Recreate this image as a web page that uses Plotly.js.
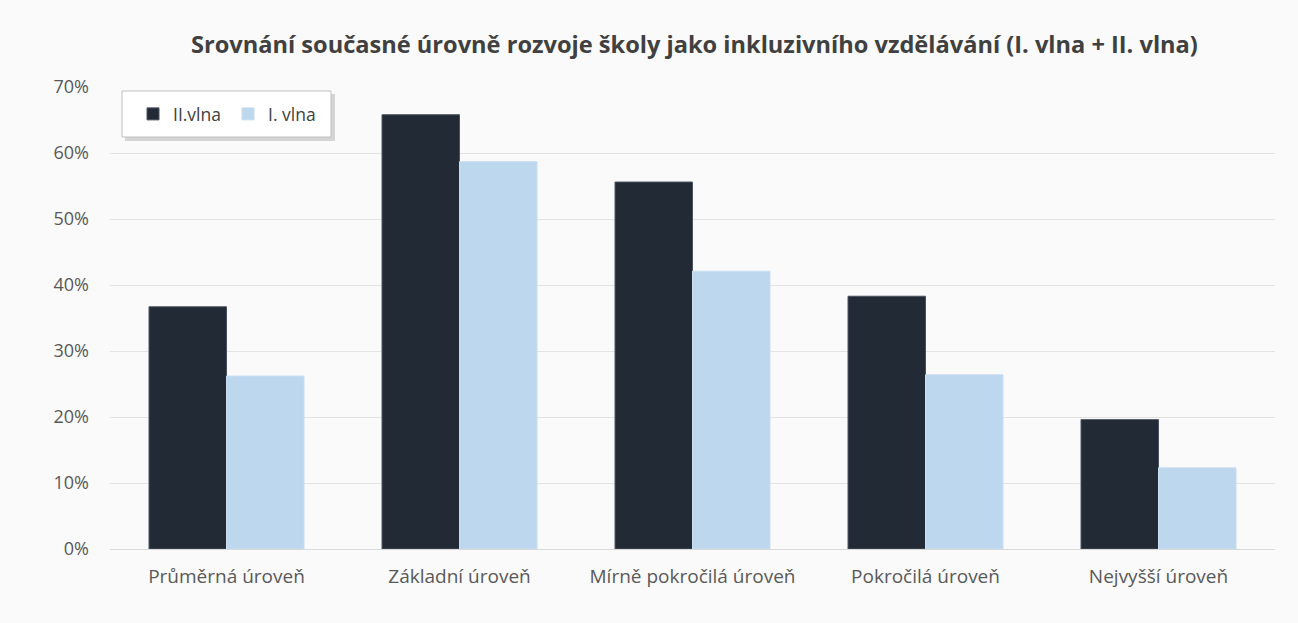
<!DOCTYPE html>
<html>
<head>
<meta charset="utf-8">
<script src="https://cdn.plot.ly/plotly-3.0.1.min.js"></script>
<style>
html,body{margin:0;padding:0;background:#fafafa;}
#chart{width:1298px;height:623px;}
</style>
</head>
<body>
<div id="chart"></div>
<script>
const categories = ["Průměrná úroveň", "Základní úroveň", "Mírně pokročilá úroveň", "Pokročilá úroveň", "Nejvyšší úroveň"];
const wave2 = [0.367, 0.658, 0.556, 0.383, 0.196];
const wave1 = [0.262, 0.587, 0.421, 0.264, 0.123];
const seriesNames = ["II.vlna", "I. vlna"];
const yTickVals = [0, 0.1, 0.2, 0.3, 0.4, 0.5, 0.6, 0.7];

const traces = [
  {type: "bar", name: seriesNames[0], x: categories, y: wave2,
   marker: {color: "#222a35", line: {color: "#4a5260", width: 1}}},
  {type: "bar", name: seriesNames[1], x: categories, y: wave1,
   marker: {color: "#bdd7ee", line: {color: "#c9def0", width: 1}}}
];

// plot area: x 110..1275 px, y 87..549 px
const px = v => (v - 110) / 1165;
const py = v => (549 - v) / 462;

const layout = {
  width: 1298, height: 623,
  paper_bgcolor: "#fafafa", plot_bgcolor: "#fafafa",
  font: {family: "Open Sans, sans-serif", color: "#595959", size: 18},
  margin: {l: 110, r: 23, t: 87, b: 74},
  title: {text: "Srovnání současné úrovně rozvoje školy jako inkluzivního vzdělávání (I. vlna + II. vlna)",
          font: {size: 23.6, color: "#404040", family: "Open Sans, sans-serif", weight: "bold"},
          x: 0.535, xanchor: "center", y: 0.928, yanchor: "middle"},
  barmode: "group", bargap: 0.335, bargroupgap: 0,
  xaxis: {showgrid: false, showline: true, linecolor: "#d9d9d9", linewidth: 1,
          ticks: "", tickfont: {size: 19, color: "#595959"}, ticklabelstandoff: 10},
  yaxis: {range: [0, 0.7], tickvals: yTickVals, tickformat: ".0%",
          showgrid: true, gridcolor: "#e3e3e3", gridwidth: 1, zeroline: false,
          showline: false, ticks: "", tickfont: {size: 18, color: "#595959"}, ticklabelstandoff: 20},
  showlegend: true,
  legend: {orientation: "h", x: px(133), xanchor: "left", y: py(114), yanchor: "middle",
           bgcolor: "rgba(0,0,0,0)", borderwidth: 0,
           font: {size: 17.5, color: "#404040"}, itemwidth: 30, entrywidth: 50},
  shapes: [
    {type: "rect", xref: "paper", yref: "paper", layer: "above",
     x0: px(125), x1: px(335), y0: py(141), y1: py(94),
     fillcolor: "#c4c4c4", line: {width: 0}, opacity: 0.7},
    {type: "rect", xref: "paper", yref: "paper", layer: "above",
     x0: px(122), x1: px(331), y0: py(137), y1: py(91),
     fillcolor: "#ffffff", line: {width: 1, color: "#bfbfbf"}}
  ]
};

Plotly.newPlot("chart", traces, layout, {displayModeBar: false});
</script>
</body>
</html>
